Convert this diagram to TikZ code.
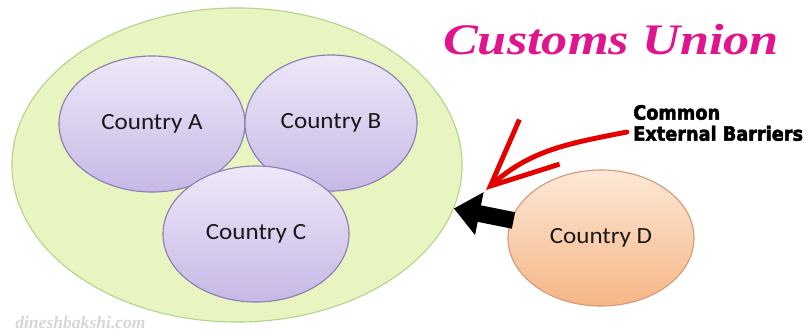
\documentclass[tikz,border=0pt]{standalone}
\usepackage{fontspec}
\setmainfont{Carlito}[FakeStretch=1.08]
\newfontfamily\titlefont[FakeStretch=1.2]{Liberation Serif}
\newfontfamily\notefont[FakeBold=2.5]{DejaVu Sans Condensed}
\newfontfamily\markfont{Liberation Serif}
\usetikzlibrary{shapes.geometric,arrows.meta}
\definecolor{unionfill}{HTML}{E9F5C0}
\definecolor{unionline}{HTML}{B6D38C}
\definecolor{lilactop}{HTML}{EEE8F8}
\definecolor{lilacbot}{HTML}{C7B8E6}
\definecolor{lilacline}{HTML}{8A7EB2}
\definecolor{peachtop}{HTML}{FDE8D6}
\definecolor{peachbot}{HTML}{F5B686}
\definecolor{peachline}{HTML}{D39A78}
\definecolor{titlepink}{HTML}{E0148C}
\begin{document}
\begin{tikzpicture}[x=0.025cm, y=0.025cm,
  union/.style={draw=unionline, thick, ellipse, fill=unionfill, minimum width=11.25cm, minimum height=7.85cm},
  member/.style={draw=lilacline, thick, ellipse, top color=lilactop, bottom color=lilacbot, minimum width=4.65cm, minimum height=3.4cm, font=\fontsize{16.5}{18}\selectfont, text=black!90},
  outsider/.style={member, draw=peachline, top color=peachtop, bottom color=peachbot},
  barrier/.style={red!90!black, line width=3.5pt, line cap=round, -{Straight Barb[length=1.65cm, width=1.5cm, line width=3.5pt]}},
  entry/.style={black, line width=0.42cm, shorten <=-2pt, -{Triangle[length=0.65cm, width=1.05cm]}}]
\useasboundingbox (0,0) rectangle (812,331);
\node[union] (u) at (237,166) {};
\node[member] (a) at (152,207) {Country A};
\node[member, minimum width=4.3cm] (b) at (331,208) {Country B};
\node[member] (c) at (256,97) {Country C};
\node[outsider] (d) at (601,93) {Country D};
\node[text=titlepink, font=\titlefont\bfseries\itshape\fontsize{31}{33}\selectfont] (t) at (611,291) {Customs Union};
\node[anchor=west, align=left, inner sep=0pt, font=\notefont\bfseries\fontsize{14}{15}\selectfont] (cb) at (633,208) {Common\\External Barriers};
\node[anchor=west, inner sep=0pt, text=black!16, font=\markfont\bfseries\itshape\fontsize{12.5}{14}\selectfont] (w) at (15,8) {dineshbakshi.com};
\coordinate (rs) at (627,199);
\coordinate (rt) at (486,141);
\draw[barrier] (rs) to[out=191, in=42] (rt);
\draw[entry] (d) -- (u);
\end{tikzpicture}
\end{document}
